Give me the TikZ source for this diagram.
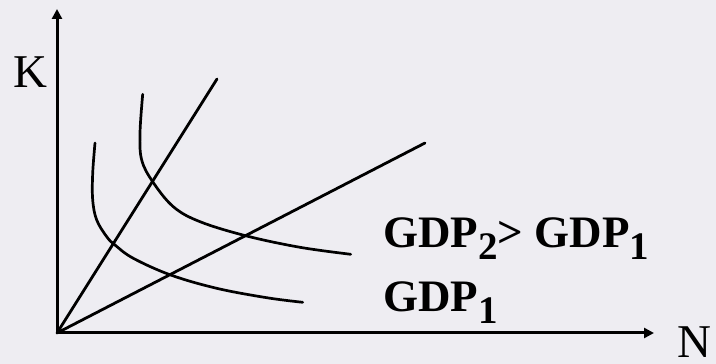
\documentclass[tikz,border=0pt]{standalone}
\usepackage{fontspec}
\setmainfont{Liberation Serif}
\usetikzlibrary{arrows.meta}
\definecolor{slidebg}{HTML}{EEEDF2}
\newcommand{\gdpsub}[1]{\raisebox{-12pt}{\fontsize{39}{39}\selectfont #1}}

\begin{document}
\begin{tikzpicture}[x=1pt, y=1pt,
    axis/.style={line width=3pt, -{Triangle[length=10pt,width=10pt]}},
    ray/.style={line width=2.8pt, line cap=round},
    isoq/.style={line width=2.7pt, line cap=round},
    axlabel/.style={font=\fontsize{47}{47}\selectfont, inner sep=0pt, anchor=base west},
    gdplabel/.style={font=\fontsize{45}{45}\selectfont\bfseries, inner sep=0pt, anchor=base west}
]
    % Background
    \fill[slidebg] (0,0) rectangle (716,364);
    \useasboundingbox (0,0) rectangle (716,364);

    % Axes
    \coordinate (orig) at (57,31);
    \coordinate (ytip) at (57,355);
    \coordinate (xtip) at (654,31);
    \draw [axis] (orig) -- (ytip);
    \draw [axis] (orig) -- (xtip);
    \node (klab) [axlabel] at (13,276) {K};
    \node (nlab) [axlabel] at (677,6) {N};

    % Rays
    \coordinate (ray1) at (217,285);
    \coordinate (ray2) at (425,221);
    \draw [ray] (orig) -- (ray1);
    \draw [ray] (orig) -- (ray2);

    % Isoquants
    \draw [isoq] plot[smooth, tension=0.6] coordinates {(95,221) (92.7,190.7) (92.7,164) (96.7,144) (106.7,127.3) (115,119) (133.3,105.7) (170.7,89) (216.7,75.7) (266.7,66.3) (302.7,61.7)};
    \draw [isoq] plot[smooth, tension=0.6] coordinates {(142.7,269.7) (140,230.7) (141.7,204) (152.7,182.3) (173.3,157.3) (200,142.3) (246.7,128) (300,116.7) (350.7,109.7)};

    % Labels
    \node (gdp2) [gdplabel] at (383,116) {GDP\gdpsub{2}> GDP\gdpsub{1}};
    \node (gdp1) [gdplabel] at (383,52) {GDP\gdpsub{1}};
\end{tikzpicture}
\end{document}
